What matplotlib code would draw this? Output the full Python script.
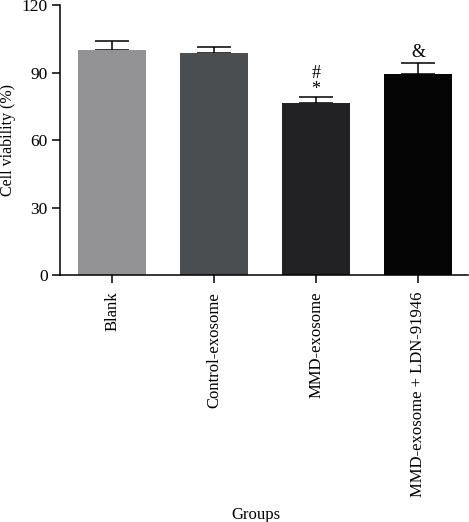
import matplotlib
matplotlib.use("Agg")
import matplotlib.pyplot as plt

groups = ['Blank', 'Control-exosome', 'MMD-exosome', 'MMD-exosome + LDN-91946']
viability = [100.0, 98.8, 76.3, 89.6]
err = [4.1, 2.7, 3.0, 4.6]
# significance marks per group: (symbol, height above the error cap)
marks = [[], [], [('*', 3.2), ('#', 10.2)], [('&', 4.8)]]
colors = ['#939396', '#4b4e51', '#222224', '#050505']

plt.rcParams['font.family'] = 'Liberation Serif'
plt.rcParams['font.size'] = 12

fig = plt.figure(figsize=(4.69, 5.22), dpi=100)
ax = fig.add_axes([0.128, 0.473, 0.870, 0.517])

x = range(len(groups))
ax.bar(x, viability, width=0.66, color=colors, zorder=2)
ax.errorbar(x, viability, yerr=[[0]*len(err), err], fmt='none', ecolor='black',
            elinewidth=1.1, capsize=12, capthick=1.1, zorder=1)

for i, ms in enumerate(marks):
    for sym, off in ms:
        ax.text(i, viability[i] + err[i] + off, sym, ha='center', va='center',
                fontsize=13)

ax.set_xlim(-0.51, 3.49)
ax.set_ylim(0, 120)
ax.set_yticks([0, 30, 60, 90, 120])
ax.set_xticks(list(x))
ax.set_xticklabels(groups, rotation=90)
ax.set_ylabel('Cell viability (%)', fontsize=11.5)
ax.set_xlabel('Groups', fontsize=12)
ax.xaxis.set_label_coords(0.48, -0.86)

for s in ['top', 'right']:
    ax.spines[s].set_visible(False)
for s in ['left', 'bottom']:
    ax.spines[s].set_linewidth(1.1)
ax.tick_params(direction='out', length=6, width=1.1)
ax.tick_params(axis='x', pad=6)
ax.tick_params(axis='y', pad=3, labelsize=12.5)

plt.savefig('out.png', dpi=100)
plt.close()
